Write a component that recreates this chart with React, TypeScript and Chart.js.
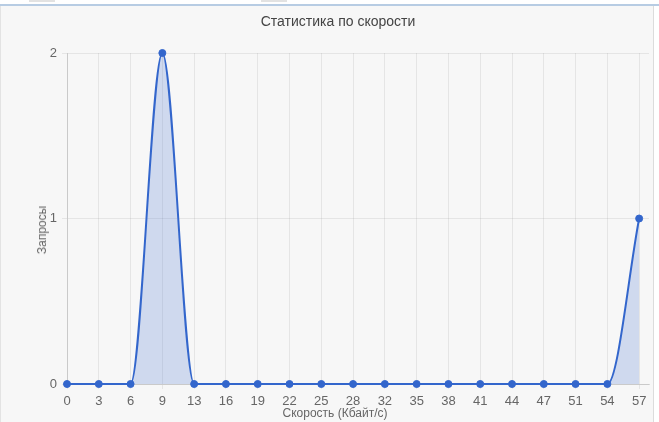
import React, { useEffect, useRef } from "react";
import { Chart, registerables } from "chart.js";

Chart.register(...registerables);

const speedLabels: string[] = ["0", "3", "6", "9", "13", "16", "19", "22", "25", "28", "32", "35", "38", "41", "44", "47", "51", "54", "57"];
const requestCounts: number[] = [0, 0, 0, 2, 0, 0, 0, 0, 0, 0, 0, 0, 0, 0, 0, 0, 0, 0, 1];
const yTicks: number[] = [0, 1, 2];

const chartTitle = "Статистика по скорости";
const xTitle = "Скорость (Кбайт/с)";
const yTitle = "Запросы";

const FONT = '"Liberation Sans", Arial, Helvetica, sans-serif';
const LINE = "#3366cc";

export default function App() {
  const canvasRef = useRef<HTMLCanvasElement | null>(null);

  useEffect(() => {
    document.body.style.margin = "0";
    const canvas = canvasRef.current;
    if (!canvas) return;
    const points = speedLabels.map((_, i) => ({ x: i, y: requestCounts[i] }));
    const chart = new Chart(canvas, {
      type: "line",
      data: {
        datasets: [
          {
            data: points,
            borderColor: LINE,
            backgroundColor: "rgba(51,102,204,0.2)",
            borderWidth: 2,
            fill: "origin",
            cubicInterpolationMode: "monotone",
            pointRadius: 3.5,
            pointBorderWidth: 1,
            pointBackgroundColor: LINE,
            pointBorderColor: LINE,
            clip: 8,
          } as any,
        ],
      },
      options: {
        animation: false,
        responsive: false,
        maintainAspectRatio: false,
        layout: { padding: { left: 16, right: 24, top: 0, bottom: 0 } },
        plugins: {
          legend: { display: false },
          tooltip: { enabled: false },
          title: {
            display: true,
            text: chartTitle,
            color: "#444",
            font: { family: FONT, size: 14, weight: "normal" },
            padding: { top: 5.6, bottom: 22.6 },
          },
        },
        scales: {
          x: {
            type: "linear",
            min: 0,
            max: speedLabels.length - 1 + 0.31,
            afterBuildTicks: (scale: any) => {
              scale.ticks = speedLabels.map((_, i) => ({ value: i }));
            },
            afterFit: (scale: any) => {
              scale.height = 38;
            },
            ticks: {
              autoSkip: false,
              maxRotation: 0,
              padding: 5,
              color: "#666",
              font: { family: FONT, size: 13 },
              callback: (v: any) => speedLabels[v] ?? "",
            },
            grid: { color: "rgba(0,0,0,0.07)", tickLength: 5 },
            border: { color: "rgba(0,0,0,0.12)" },
          },
          y: {
            min: 0,
            max: 2,
            afterBuildTicks: (scale: any) => {
              scale.ticks = yTicks.map((v) => ({ value: v }));
            },
            afterFit: (scale: any) => {
              scale.width = 40;
            },
            ticks: {
              padding: 5,
              color: "#666",
              font: { family: FONT, size: 13 },
            },
            grid: { color: "rgba(0,0,0,0.07)", tickLength: 5 },
            border: { color: "rgba(0,0,0,0.12)" },
          },
        },
      },
    });
    return () => chart.destroy();
  }, []);

  return (
    <div style={{ position: "relative", width: 659, height: 422, overflow: "hidden", background: "#fff", fontFamily: FONT }}>
      <div style={{ position: "absolute", left: 29, top: 0, width: 26, height: 2, background: "#e2e2e2" }} />
      <div style={{ position: "absolute", left: 261, top: 0, width: 26, height: 2, background: "#e2e2e2" }} />
      <div style={{ position: "absolute", left: 0, top: 4, width: 659, height: 2, background: "#b7cce3" }} />
      <div
        style={{
          position: "absolute",
          left: 0,
          top: 6,
          width: 654,
          height: 416,
          background: "#f7f7f7",
          borderLeft: "1px solid #e3e3e3",
          borderRight: "1px solid #dcdcdc",
          boxSizing: "border-box",
          overflow: "hidden",
        }}
      >
        <canvas
          ref={canvasRef}
          width={662}
          height={414}
          style={{ position: "absolute", left: 10, top: 2, width: 662, height: 414 }}
        />
        <div
          style={{
            position: "absolute",
            left: 41,
            top: 224,
            transform: "translate(-50%, -50%) rotate(-90deg)",
            fontSize: 12,
            color: "#666",
            whiteSpace: "nowrap",
          }}
        >
          {yTitle}
        </div>
        <div
          style={{
            position: "absolute",
            left: 334,
            top: 407,
            transform: "translate(-50%, -50%)",
            fontSize: 12,
            color: "#666",
            whiteSpace: "nowrap",
          }}
        >
          {xTitle}
        </div>
      </div>
    </div>
  );
}
